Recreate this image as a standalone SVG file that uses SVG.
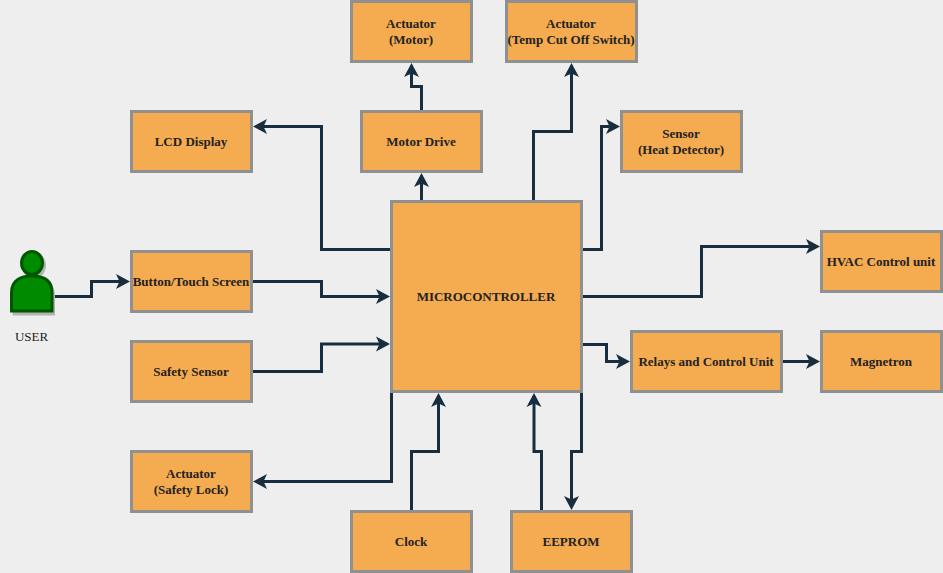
<svg xmlns="http://www.w3.org/2000/svg" width="943" height="573" viewBox="0 0 943 573">
<style>
.b{fill:#F5AB50;stroke:#909090;stroke-width:3}
.t{font-family:"Liberation Serif","Times New Roman",serif;font-size:13px;font-weight:700;fill:#222222;text-anchor:middle;transform:translateX(-.5px)}
.c{fill:none;stroke:#182E3E;stroke-width:3;marker-end:url(#a)}
</style>
<defs>
<marker id="a" markerUnits="userSpaceOnUse" markerWidth="16" markerHeight="16" refX="11" refY="8" orient="auto" viewBox="0 0 16 16">
<path d="M14 8L0 .5L3.5 8L0 15.5Z" fill="#182E3E"/>
</marker>
</defs>
<rect width="943" height="573" fill="#EEEEEE"/>
<g transform="translate(.5 .5)">
<g id="connectors">
<path class="c" d="M52 296H91V281H126.5"/>
<path class="c" d="M251 281H321V296H386.5"/>
<path class="c" d="M251 371H321V343.5H386.5"/>
<path class="c" d="M391 249H321V126H255.5"/>
<path class="c" d="M421 201V175.5"/>
<path class="c" d="M421 111V86H411V65.5"/>
<path class="c" d="M533 201V131H571V65.5"/>
<path class="c" d="M581 249H601V126H616.5"/>
<path class="c" d="M581 296H701V246H816.5"/>
<path class="c" d="M581 344H606V361H626.5"/>
<path class="c" d="M781 361H816.5"/>
<path class="c" d="M391 391V481H255.5"/>
<path class="c" d="M411 511V451H438V395.5"/>
<path class="c" d="M541 511V451H533.5V395.5"/>
<path class="c" d="M581 391V451H571V506.5"/>
</g>
<g id="user">
<ellipse cx="33.5" cy="265" rx="12" ry="13" fill="#B3B3B3"/>
<path d="M12 315V295C12 283 22 277 33.5 277C45 277 54.500 283 54.500 295V315Z" fill="#B3B3B3"/>
<ellipse cx="31.5" cy="262.5" rx="10.5" ry="11.5" fill="#008A00" stroke="#005700" stroke-width="3"/>
<path d="M11 310.500V292C11 280 20 275.500 31.500 275.500C43 275.500 51.500 280 51.500 292V310.500Z" fill="#008A00" stroke="#005700" stroke-width="3"/>
<text x="31" y="340" style="font-family:'Liberation Serif','Times New Roman',serif;font-size:13px;fill:#222222;text-anchor:middle">USER</text>
</g>
<g id="actuator-motor"><rect class="b" x="351" y="1" width="120" height="60"/><text class="t" x="411" y="27.500">Actuator</text><text class="t" x="411" y="43.500">(Motor)</text></g>
<g id="actuator-temp"><rect class="b" x="506" y="1" width="130" height="60"/><text class="t" x="571" y="27.500">Actuator</text><text class="t" x="571" y="43.500">(Temp Cut Off Switch)</text></g>
<g id="lcd"><rect class="b" x="131" y="111" width="120" height="60"/><text class="t" x="191" y="145.500">LCD Display</text></g>
<g id="motor-drive"><rect class="b" x="361" y="111" width="120" height="60"/><text class="t" x="421" y="145.500">Motor Drive</text></g>
<g id="sensor"><rect class="b" x="621" y="111" width="120" height="60"/><text class="t" x="681" y="137.500">Sensor</text><text class="t" x="681" y="153.500">(Heat Detector)</text></g>
<g id="mcu"><rect class="b" x="391" y="201" width="190" height="190"/><text class="t" x="486" y="300.500">MICROCONTROLLER</text></g>
<g id="hvac"><rect class="b" x="821" y="231" width="120" height="60"/><text class="t" x="881" y="265.500">HVAC Control unit</text></g>
<g id="button"><rect class="b" x="131" y="251" width="120" height="60"/><text class="t" x="191" y="285.500">Button/Touch Screen</text></g>
<g id="safety-sensor"><rect class="b" x="131" y="341" width="120" height="60"/><text class="t" x="191" y="375.500">Safety Sensor</text></g>
<g id="relays"><rect class="b" x="631" y="331" width="150" height="60"/><text class="t" x="706" y="365.500">Relays and Control Unit</text></g>
<g id="magnetron"><rect class="b" x="821" y="331" width="120" height="60"/><text class="t" x="881" y="365.500">Magnetron</text></g>
<g id="actuator-lock"><rect class="b" x="131" y="451" width="120" height="60"/><text class="t" x="191" y="477.500">Actuator</text><text class="t" x="191" y="493.500">(Safety Lock)</text></g>
<g id="clock"><rect class="b" x="351" y="511" width="120" height="60"/><text class="t" x="411" y="545.500">Clock</text></g>
<g id="eeprom"><rect class="b" x="511" y="511" width="120" height="60"/><text class="t" x="571" y="545.500">EEPROM</text></g>
</g>
</svg>
